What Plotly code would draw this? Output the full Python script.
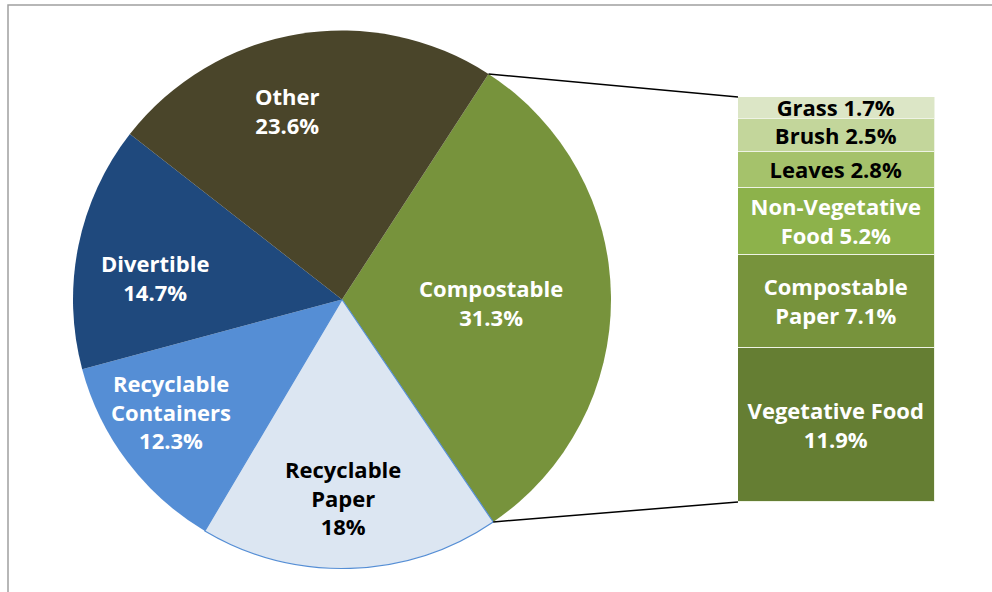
import math
import plotly.graph_objects as go

# ---------------- data ----------------
pie_labels = ["Compostable", "Recyclable Paper", "Recyclable Containers", "Divertible", "Other"]
pie_values = [31.3, 18, 12.3, 14.7, 23.6]
pie_label_lines = ["Compostable", "Recyclable<br>Paper", "Recyclable<br>Containers", "Divertible", "Other"]

bar_labels = ["Vegetative Food", "Compostable Paper", "Non-Vegetative Food", "Leaves", "Brush", "Grass"]
bar_values = [11.9, 7.1, 5.2, 2.8, 2.5, 1.7]
bar_label_prefix = ["Vegetative Food<br>", "Compostable<br>Paper ", "Non-Vegetative<br>Food ",
                    "Leaves ", "Brush ", "Grass "]

# ---------------- styles ----------------
W, H = 992, 592
OFF = 0                      # page body margin is removed below
FONT = "Open Sans"
FS = 22
pie_colors = ["#77933C", "#DCE6F2", "#558ED5", "#1F497D", "#4A452A"]
pie_text_colors = ["white", "black", "white", "white", "white"]
pie_label_radius = [0.555, 0.735, 0.76, 0.70, 0.73]
pie_label_nudge = [1.6, 1.6, 3.9, -4.7, -6.7]   # degrees
bar_colors = ["#657E33", "#77933C", "#8DB24B", "#A5C26B", "#C3D69B", "#DCE6C6"]
bar_text_colors = ["white", "white", "white", "black", "black", "black"]

cx, cy, R = 342, 299.5, 269          # pie centre / radius in px
rotation = 33
bx0, bx1, by_top, by_bot = 738, 935, 97, 502

def px2paper(x, y):
    return (x - OFF) / W, 1 - (y - OFF) / H

fig = go.Figure()

dx0, dy1 = px2paper(cx - R, cy - R)
dx1, dy0 = px2paper(cx + R, cy + R)
fig.add_trace(go.Pie(
    labels=pie_labels, values=pie_values, sort=False, direction="clockwise",
    rotation=rotation, textinfo="none", hoverinfo="label+value",
    marker=dict(colors=pie_colors,
                line=dict(color=["#558ED5" if l == "Recyclable Paper" else "rgba(0,0,0,0)" for l in pie_labels],
                          width=[1.2 if l == "Recyclable Paper" else 0 for l in pie_labels])),
    domain=dict(x=[dx0, dx1], y=[dy0, dy1]),
    showlegend=False,
))

for lab, val, pre, col, tcol in zip(bar_labels, bar_values, bar_label_prefix, bar_colors, bar_text_colors):
    fig.add_trace(go.Bar(
        x=[0], y=[val], name=lab, marker=dict(color=col, line=dict(color="#EEF3E4", width=1.5)),
        text=[f"{pre}{val:g}%"], textposition="inside", insidetextanchor="middle", textangle=0,
        textfont=dict(family=FONT, size=FS, color=tcol, weight=700),
        hoverinfo="name+y", showlegend=False,
    ))

total = sum(pie_values)
annotations = []
cum = 0
for lines, val, tcol, rf, nd in zip(pie_label_lines, pie_values, pie_text_colors, pie_label_radius, pie_label_nudge):
    mid = math.radians(rotation + 360 * (cum + val / 2) / total + nd)
    cum += val
    x, y = px2paper(cx + rf * R * math.sin(mid), cy - rf * R * math.cos(mid))
    annotations.append(dict(x=x, y=y, xref="paper", yref="paper", showarrow=False,
                            text=f"{lines}<br>{val:g}%", xanchor="center", yanchor="middle",
                            font=dict(family=FONT, size=FS, color=tcol, weight=700)))

# connector lines from the Compostable slice edges to the bar
a0 = math.radians(rotation)
a1 = math.radians(rotation + 360 * pie_values[0] / total)
p0 = px2paper(cx + R * math.sin(a0), cy - R * math.cos(a0))
p1 = px2paper(cx + R * math.sin(a1), cy - R * math.cos(a1))
bt = px2paper(bx0, by_top)
bb = px2paper(bx0, by_bot)
fx0, fy1 = px2paper(8, 5)
shapes = [
    dict(type="line", xref="paper", yref="paper", x0=p0[0], y0=p0[1], x1=bt[0], y1=bt[1],
         line=dict(color="black", width=1.5)),
    dict(type="line", xref="paper", yref="paper", x0=p1[0], y0=p1[1], x1=bb[0], y1=bb[1],
         line=dict(color="black", width=1.5)),
    dict(type="rect", xref="paper", yref="paper", x0=fx0, y0=-0.1, x1=1.1, y1=fy1,
         line=dict(color="#A0A0A0", width=1.5), fillcolor="rgba(0,0,0,0)", layer="below"),
]

bxa, bya1 = px2paper(bx0, by_top)
bxb, bya0 = px2paper(bx1, by_bot)
fig.update_layout(
    width=W, height=H, margin=dict(l=0, r=0, t=0, b=0),
    paper_bgcolor="white", plot_bgcolor="white",
    barmode="stack", bargap=0,
    xaxis=dict(domain=[bxa, bxb], range=[-0.5, 0.5], visible=False, fixedrange=True),
    yaxis=dict(domain=[bya0, bya1], range=[0, sum(bar_values)], visible=False, fixedrange=True),
    uniformtext=dict(minsize=FS, mode="show"),
    annotations=annotations, shapes=shapes,
    font=dict(family=FONT),
)

fig.write_html("out.html", config={"displayModeBar": False},
               post_script="document.body.style.margin='0px';document.body.style.overflow='hidden';")
